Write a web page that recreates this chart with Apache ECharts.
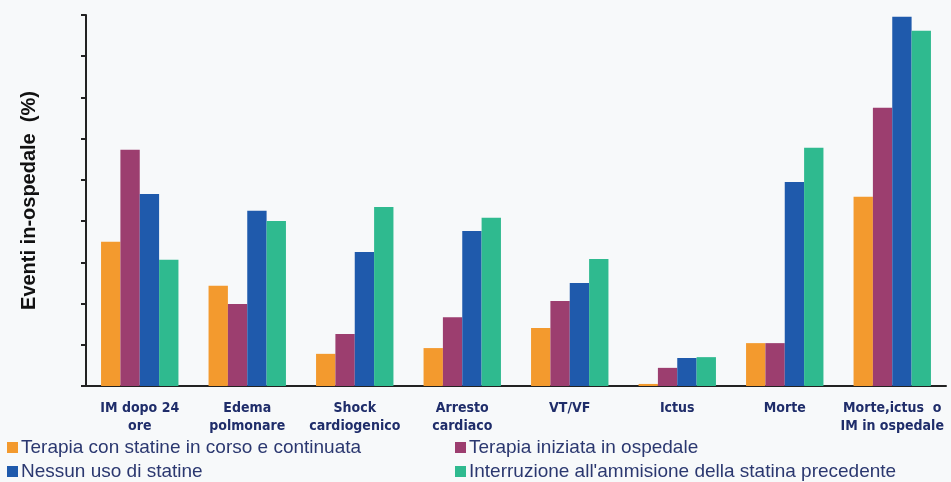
<!DOCTYPE html>
<html lang="it">

<head>
    <meta charset="UTF-8">
    <title>Eventi in-ospedale</title>
    <script src="https://cdn.jsdelivr.net/npm/echarts@6/dist/echarts.min.js"></script>
    <style>
        html, body { margin: 0; padding: 0; background: #f7f9fa; }
    </style>
</head>

<body>

    <div id="main" style="width: 951px;height: 482px;"></div>

    <script type="text/javascript">
        var categorie = ['IM dopo 24\nore', 'Edema\npolmonare', 'Shock\ncardiogenico', 'Arresto\ncardiaco',
            'VT/VF', 'Ictus', 'Morte', 'Morte,ictus  o\nIM in ospedale'];

        var nomiSerie = [
            'Terapia con statine in corso e continuata',
            'Terapia iniziata in ospedale',
            'Nessun uso di statine',
            "Interruzione all'ammisione della statina precedente"
        ];

        // valori (1 unità = 1 tacca dell'asse)
        var continuata = [3.5, 2.43, 0.78, 0.92, 1.41, 0.05, 1.04, 4.59];
        var iniziata = [5.73, 1.99, 1.26, 1.67, 2.06, 0.44, 1.04, 6.75];
        var nessuna = [4.66, 4.25, 3.25, 3.76, 2.5, 0.68, 4.95, 8.96];
        var interrotta = [3.06, 4.0, 4.34, 4.08, 3.08, 0.7, 5.78, 8.62];

        var colori = ['#f39a2e', '#9c3e6f', '#1f5aac', '#2fba8f'];

        var myChart = echarts.init(document.getElementById('main'));

        var testoLegenda = { fontSize: 19, color: '#2b3870', fontFamily: 'Liberation Sans', padding: [0, 0, 0, -2] };

        var option = {
            backgroundColor: '#f7f9fa',
            color: colori,
            animation: false,
            grid: { left: 86, right: 5, top: 15, bottom: 96 },
            legend: [{
                data: [nomiSerie[0], nomiSerie[2]],
                orient: 'vertical',
                left: 7, top: 438,
                padding: 0,
                height: 44,
                itemWidth: 11, itemHeight: 11, itemGap: 5,
                icon: 'rect',
                textStyle: testoLegenda
            }, {
                data: [nomiSerie[1], nomiSerie[3]],
                orient: 'vertical',
                left: 455, top: 438,
                padding: 0,
                height: 44,
                itemWidth: 11, itemHeight: 11, itemGap: 5,
                icon: 'rect',
                textStyle: testoLegenda
            }],
            xAxis: {
                type: 'category',
                data: categorie,
                axisLine: { lineStyle: { color: '#222', width: 2 } },
                axisTick: { length: 5, lineStyle: { color: '#222', width: 2 } },
                axisLabel: {
                    interval: 0,
                    margin: 13,
                    fontSize: 14,
                    fontWeight: 'bold',
                    color: '#1f2d6a',
                    lineHeight: 18,
                    fontFamily: 'DejaVu Sans Condensed'
                }
            },
            yAxis: {
                type: 'value',
                min: 0,
                max: 9,
                interval: 1,
                name: 'Eventi in-ospedale  (%)',
                nameLocation: 'middle',
                nameGap: 47,
                nameTextStyle: { fontSize: 20, fontWeight: 'bold', color: '#111', fontFamily: 'Liberation Sans' },
                axisLine: { show: true, lineStyle: { color: '#222', width: 2 } },
                axisTick: { show: true, length: 5, lineStyle: { color: '#222', width: 2 } },
                axisLabel: { show: false },
                splitLine: { show: false }
            },
            series: [
                { name: nomiSerie[0], type: 'bar', data: continuata, barGap: '0%', barCategoryGap: '28%' },
                { name: nomiSerie[1], type: 'bar', data: iniziata, barGap: '0%', barCategoryGap: '28%' },
                { name: nomiSerie[2], type: 'bar', data: nessuna, barGap: '0%', barCategoryGap: '28%' },
                { name: nomiSerie[3], type: 'bar', data: interrotta, barGap: '0%', barCategoryGap: '28%' }
            ]
        };

        myChart.setOption(option);
    </script>

</body>

</html>
